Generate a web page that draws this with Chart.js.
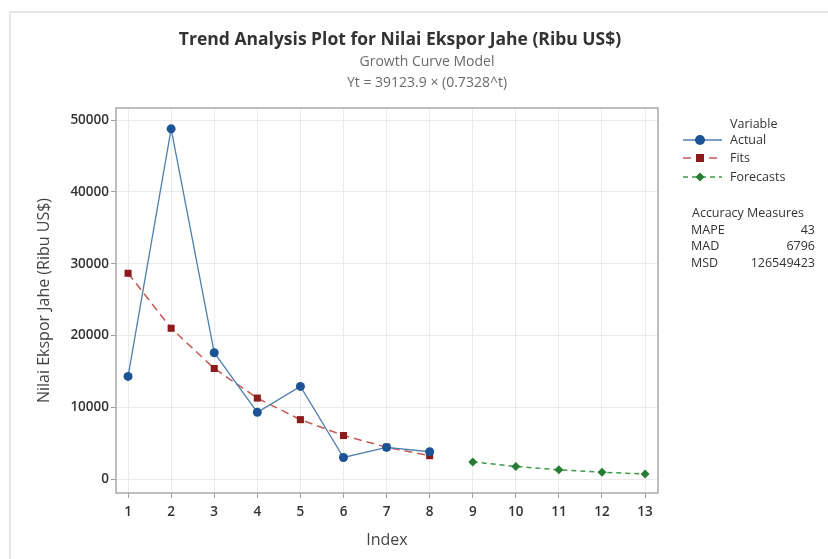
<!DOCTYPE html>
<html lang="en">
<head>
  <meta charset="UTF-8">
  <title>Trend Analysis Plot for Nilai Ekspor Jahe</title>
  <script src="https://cdn.jsdelivr.net/npm/chart.js"></script>
  <style>
    body { margin: 0; background: white; }
    #wrap { position: relative; width: 828px; height: 559px; }
    #frame { position: absolute; left: 9px; top: 11px; right: -2px; bottom: -2px; border-left: 2px solid #e6e6e6; border-top: 2px solid #e6e6e6; }
    canvas { position: absolute; left: 0; top: 0; }
  </style>
</head>
<body>
  <div id="wrap">
    <div id="frame"></div>
    <canvas id="chart" width="828" height="559"></canvas>
  </div>

  <script>
    const indexActual = [1, 2, 3, 4, 5, 6, 7, 8];
    const actualValues = [14300, 48800, 17600, 9300, 12900, 3000, 4400, 3800];
    const fitValues = [28670, 21010, 15400, 11280, 8270, 6060, 4440, 3250];
    const indexForecast = [9, 10, 11, 12, 13];
    const forecastValues = [2380, 1750, 1280, 940, 690];
    const xTicks = [1, 2, 3, 4, 5, 6, 7, 8, 9, 10, 11, 12, 13];
    const yTicks = [0, 10000, 20000, 30000, 40000, 50000];
    const accuracy = [['MAPE', '43'], ['MAD', '6796'], ['MSD', '126549423']];

    const FONT = '"Open Sans", "Noto Sans", sans-serif';
    const colors = {
      actualLine: '#4f7fae', actualPoint: '#1b5395',
      fitLine: '#c45a55', fitPoint: '#8e1b1b',
      fcLine: '#3c9a4b', fcPoint: '#277d35'
    };

    const toPoints = (xs, ys) => xs.map((x, i) => ({ x, y: ys[i] }));

    // titles, outer plot border and legend block
    const decorations = {
      id: 'decorations',
      afterDraw(chart) {
        const ctx = chart.ctx;
        const a = chart.chartArea;
        ctx.save();
        ctx.strokeStyle = '#a9a9a9';
        ctx.lineWidth = 1.5;
        ctx.strokeRect(a.left, a.top, a.right - a.left, a.bottom - a.top);

        ctx.textAlign = 'center';
        ctx.textBaseline = 'middle';
        ctx.fillStyle = '#333';
        ctx.font = 'bold 17.5px ' + FONT;
        ctx.fillText('Trend Analysis Plot for Nilai Ekspor Jahe (Ribu US$)', 400, 40);
        ctx.fillStyle = '#6b6b6b';
        ctx.font = '14px ' + FONT;
        ctx.fillText('Growth Curve Model', 427, 62);
        ctx.fillText('Yt = 39123.9 \u00d7 (0.7328^t)', 427, 83);

        // legend
        ctx.fillStyle = '#333';
        ctx.font = '12.5px ' + FONT;
        ctx.textAlign = 'left';
        ctx.fillText('Variable', 730, 124);
        const rows = [
          { label: 'Actual', y: 140, ds: chart.data.datasets[0] },
          { label: 'Fits', y: 158, ds: chart.data.datasets[1] },
          { label: 'Forecasts', y: 177, ds: chart.data.datasets[2] }
        ];
        rows.forEach(r => {
          ctx.save();
          ctx.strokeStyle = r.ds.borderColor;
          ctx.lineWidth = 1.5;
          ctx.setLineDash(r.ds.borderDash || []);
          ctx.beginPath();
          ctx.moveTo(683, r.y);
          ctx.lineTo(722, r.y);
          ctx.stroke();
          ctx.restore();
          ctx.fillStyle = r.ds.pointBackgroundColor;
          ctx.beginPath();
          if (r.ds.pointStyle === 'rect') {
            ctx.rect(700 - 4, r.y - 4, 8, 8);
          } else if (r.ds.pointStyle === 'rectRot') {
            ctx.moveTo(700, r.y - 4.5); ctx.lineTo(704.5, r.y);
            ctx.lineTo(700, r.y + 4.5); ctx.lineTo(695.5, r.y);
            ctx.closePath();
          } else {
            ctx.arc(700, r.y, 5, 0, Math.PI * 2);
          }
          ctx.fill();
          ctx.fillStyle = '#333';
          ctx.fillText(r.label, 730, r.y);
        });

        ctx.textAlign = 'center';
        ctx.fillText('Accuracy Measures', 748, 213);
        accuracy.forEach((row, i) => {
          const y = 230 + i * 16.5;
          ctx.textAlign = 'left';
          ctx.fillText(row[0], 691, y);
          ctx.textAlign = 'right';
          ctx.fillText(row[1], 815, y);
        });
        ctx.restore();
      }
    };

    const ctx = document.getElementById('chart').getContext('2d');
    new Chart(ctx, {
      type: 'line',
      data: {
        datasets: [
          {
            label: 'Actual',
            data: toPoints(indexActual, actualValues),
            borderColor: colors.actualLine,
            borderWidth: 1.3,
            pointStyle: 'circle',
            pointRadius: 4.5,
            pointBackgroundColor: colors.actualPoint,
            pointBorderColor: colors.actualPoint,
            pointBorderWidth: 0
          },
          {
            label: 'Fits',
            data: toPoints(indexActual, fitValues),
            borderColor: colors.fitLine,
            borderWidth: 1.5,
            borderDash: [8, 5],
            pointStyle: 'rect',
            pointRadius: 5,
            pointBackgroundColor: colors.fitPoint,
            pointBorderColor: colors.fitPoint,
            pointBorderWidth: 0
          },
          {
            label: 'Forecasts',
            data: toPoints(indexForecast, forecastValues),
            borderColor: colors.fcLine,
            borderWidth: 1.5,
            borderDash: [5, 4],
            pointStyle: 'rectRot',
            pointRadius: 4.5,
            pointBackgroundColor: colors.fcPoint,
            pointBorderColor: colors.fcPoint,
            pointBorderWidth: 0
          }
        ]
      },
      options: {
        responsive: false,
        animation: false,
        layout: { padding: { top: 108, right: 170, left: 0, bottom: 0 } },
        plugins: { legend: { display: false }, tooltip: { enabled: false } },
        elements: { line: { tension: 0 } },
        scales: {
          x: {
            type: 'linear',
            min: 0.72,
            max: 13.3,
            afterBuildTicks: s => { s.ticks = xTicks.map(v => ({ value: v })); },
            afterFit: s => { s.height = 66; },
            grid: { color: '#ebebeb', tickColor: '#a0a0a0', tickLength: 5, lineWidth: 1 },
            border: { display: false },
            ticks: { color: '#333', padding: 6, callback: v => String(v), font: { family: FONT, size: 13.5, weight: '600' } },
            title: { display: true, text: 'Index', color: '#444', padding: { bottom: 9 }, font: { family: FONT, size: 16 } }
          },
          y: {
            min: -1950,
            max: 51700,
            afterBuildTicks: s => { s.ticks = yTicks.map(v => ({ value: v })); },
            afterFit: s => { s.width = 116; },
            grid: { color: '#ebebeb', tickColor: '#a0a0a0', tickLength: 5, lineWidth: 1 },
            border: { display: false },
            ticks: { color: '#333', padding: 2, callback: v => String(v), font: { family: FONT, size: 13.5, weight: '600' } },
            title: { display: true, text: 'Nilai Ekspor Jahe (Ribu US$)', color: '#444', padding: { top: 35 }, font: { family: FONT, size: 16 } }
          }
        }
      },
      plugins: [decorations]
    });
  </script>
</body>
</html>
